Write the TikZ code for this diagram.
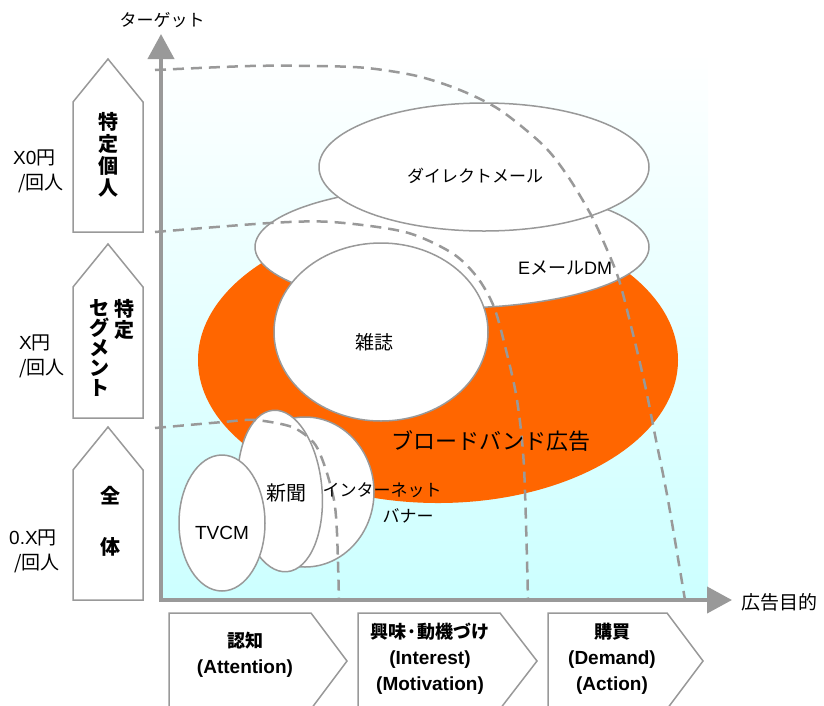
\documentclass[tikz,border=0pt]{standalone}
\usepackage{fontspec}
\setmainfont{Liberation Sans}
\newfontfamily\jp{Noto Sans CJK JP}
\newcommand\cjpfont{\fontsize{18}{26}\selectfont\jp\bfseries}
\usetikzlibrary{arrows.meta}
\definecolor{axisgray}{HTML}{999999}
\definecolor{linegray}{HTML}{999999}
\definecolor{bborange}{HTML}{FF6600}
\definecolor{bgcyan}{HTML}{CCFFFF}
\begin{document}
\begin{tikzpicture}[x=1pt,y=-1pt,
  bubble/.style={draw=linegray, line width=1.5pt, fill=white},
  pentabox/.style={draw=linegray, line width=1.5pt, fill=white},
  zone/.style={draw=linegray, line width=2.5pt, dash pattern=on 11pt off 7pt},
  axisline/.style={draw=axisgray, line width=4pt, -{Triangle[length=25pt,width=26pt]}},
  jtext/.style={inner sep=0pt, font=\fontsize{17}{20}\selectfont\jp},
  ltext/.style={inner sep=0pt, font=\fontsize{17}{24}\selectfont},
  vtext/.style={inner sep=0pt, align=center, font=\fontsize{20}{22}\selectfont\jp\bfseries},
  ctext/.style={inner sep=0pt, align=center, font=\fontsize{19}{26}\selectfont\bfseries},
  costtext/.style={inner sep=0pt, anchor=west, align=left, font=\fontsize{19}{25}\selectfont}
]
\useasboundingbox (0,0) rectangle (824,705);
\clip (0,0) rectangle (824,705);

% background
\shade[top color=white, bottom color=bgcyan] (161,52) rectangle (708,600);

% broadband ellipse
\fill[bborange] (438,360) ellipse [x radius=240, y radius=143];

% ellipses
\path[bubble] (452,247) ellipse [x radius=197, y radius=61];
\path[bubble] (484,167) ellipse [x radius=165, y radius=64];
\path[bubble] (381,332) ellipse [x radius=107, y radius=89];
\path[bubble] (305,492) ellipse [x radius=69, y radius=75];
\path[bubble, rotate around={5:(280,491)}] (280,491) ellipse [x radius=42, y radius=81];
\path[bubble] (222,523) ellipse [x radius=43, y radius=68];

% zone boundaries
\draw[zone] plot[smooth, tension=0.5] coordinates {(155,70) (250,66) (317,66) (367,68) (417,76) (460,90) (500,110) (543,145) (567,175) (590,213) (605,245) (619,280) (632,330) (645,385) (656,440) (668,500) (685,600)};
\draw[zone] plot[smooth, tension=0.5] coordinates {(155,232) (270,223) (332,222) (405,232) (452,253) (477,277) (494,307) (506,350) (517,400) (524,467) (528,600)};
\draw[zone] plot[smooth, tension=0.5] coordinates {(155,428) (223,422) (255,420) (292,427) (314,443) (325,467) (334,500) (337,533) (339,600)};

% axes
\coordinate (O) at (161,600);
\coordinate (ytip) at (161,34);
\coordinate (xtip) at (732,600);
\draw[axisline] (O) -- (ytip);
\draw[axisline] ([xshift=-2pt]O) -- (xtip);
\node[jtext] (ylab) at (162,20) {ターゲット};
\node[jtext, anchor=west, font=\fontsize{19}{20}\selectfont\jp] (xlab) at (741,602) {広告目的};

% ellipse labels
\node[jtext] (dmlab) at (475,176) {ダイレクトメール};
\node[ltext, font=\fontsize{18}{20}\selectfont] (emlab) at (565,268) {E{\jp メール}DM};
\node[jtext, font=\fontsize{19}{20}\selectfont\jp] (mglab) at (374,342) {雑誌};
\node[jtext, font=\fontsize{22}{24}\selectfont\jp] (bblab) at (491,441) {ブロードバンド広告};
\node[jtext, font=\fontsize{20}{20}\selectfont\jp] (nplab) at (286,493) {新聞};
\node[ltext, font=\fontsize{19}{20}\selectfont] (tvlab) at (222,533) {TVCM};
\node[jtext] (inlab) at (382,490) {インターネット};
\node[jtext] (bnlab) at (408,516) {バナー};

% left target pentagons
\path[pentabox] (73,102) -- (108,59) -- (143,102) -- (143,232) -- (73,232) -- cycle;
\path[pentabox] (73,287) -- (108,244) -- (143,287) -- (143,418) -- (73,418) -- cycle;
\path[pentabox] (73,470) -- (108,427) -- (143,470) -- (143,600) -- (73,600) -- cycle;
\node[vtext] (t1) at (108,155) {特\\定\\個\\人};
\node[vtext, font=\fontsize{20}{21}\selectfont\jp\bfseries] (t2a) at (124,319) {特\\定};
\node[vtext, font=\fontsize{20}{20}\selectfont\jp\bfseries] (t2b) at (99,348) {セ\\グ\\メ\\ン\\ト};
\node[vtext, font=\fontsize{20}{51}\selectfont\jp\bfseries] (t3) at (110,521) {全\\体};

% cost labels
\node[costtext] (c1) at (13,171) {X0{\jp 円}\\\ {\jp /回人}};
\node[costtext] (c2) at (19,356) {X{\jp 円}\\{\jp /回人}};
\node[costtext] (c3) at (9,551) {0.X{\jp 円}\\\ {\jp /回人}};

% bottom chevrons
\path[pentabox] (169,613) -- (311,613) -- (347,661) -- (311,709) -- (169,709) -- cycle;
\path[pentabox] (358,613) -- (500,613) -- (537,661) -- (500,709) -- (358,709) -- cycle;
\path[pentabox] (548,613) -- (667,613) -- (703,661) -- (667,709) -- (548,709) -- cycle;
\node[ctext] (p1) at (245,655) {{\cjpfont 認知}\\(Attention)};
\node[ctext] (p2) at (430,659) {{\cjpfont 興味·動機づけ}\\(Interest)\\(Motivation)};
\node[ctext] (p3) at (612,659) {{\cjpfont 購買}\\(Demand)\\(Action)};
\end{tikzpicture}
\end{document}
